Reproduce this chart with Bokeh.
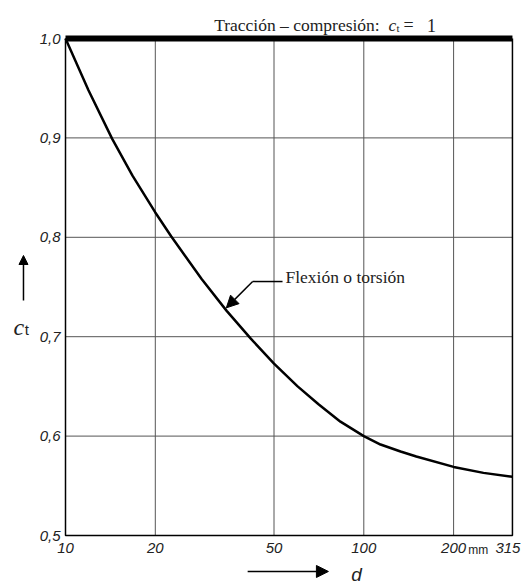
from bokeh.plotting import figure
from bokeh.models import (Range1d, FixedTicker, CustomJSTickFormatter, Label,
                          Arrow, NormalHead)
from bokeh.embed import file_html
from bokeh.resources import INLINE

# --- data ---
bend_d = [10, 11.94, 14.34, 16.77, 20, 22.6, 28.6, 34.7, 41.8, 50, 60, 70.5,
          83.5, 100, 113.8, 132.8, 150, 200, 251.9, 315]
bend_ct = [1.0, 0.948, 0.899, 0.862, 0.825, 0.801, 0.758, 0.726, 0.698, 0.673,
           0.650, 0.632, 0.6145, 0.600, 0.5915, 0.5845, 0.5795, 0.569, 0.563, 0.559]
tc_d = [10, 315]
tc_ct = [1.0, 1.0]
x_ticks = [10, 20, 50, 100, 200, 315]
y_ticks = [0.5, 0.6, 0.7, 0.8, 0.9, 1.0]

SERIF = "Liberation Serif"
SANS = "Liberation Sans"
INK = "#222222"

# layout: the frame fills the whole figure; the chart box is drawn inside it
W, H = 525, 585
BOX_L, BOX_B = 65, 535                     # pixels inside the figure
PX_DEC = 298.3                             # pixels per decade on x
PX_UNIT = 994.0                            # pixels per unit of c_t
x_lo, x_hi = x_ticks[0], x_ticks[-1]
y_lo, y_hi = y_ticks[0], y_ticks[-1]
x_start = x_lo * 10 ** (-BOX_L / PX_DEC)
x_end = x_lo * 10 ** ((W - BOX_L) / PX_DEC)
y_start = y_lo - (H - BOX_B) / PX_UNIT
y_end = y_lo + BOX_B / PX_UNIT

p = figure(x_axis_type="log", output_backend="svg", toolbar_location=None,
           width=W, height=H, min_border=0,
           x_range=Range1d(x_start, x_end), y_range=Range1d(y_start, y_end))
p.background_fill_color = "white"
p.border_fill_color = "white"
p.outline_line_color = None
p.xgrid.visible = False
p.ygrid.visible = False

for ax in (p.xaxis[0], p.yaxis[0]):
    ax.axis_line_color = None
    ax.major_tick_line_color = None
    ax.minor_tick_line_color = None
    ax.major_tick_out = 0
    ax.major_tick_in = 0
    ax.major_label_text_font = SANS
    ax.major_label_text_font_style = "italic"
    ax.major_label_text_font_size = "15px"
    ax.major_label_text_color = INK

p.xaxis.fixed_location = y_lo
p.yaxis.fixed_location = x_lo
p.xaxis.ticker = FixedTicker(ticks=x_ticks)
p.yaxis.ticker = FixedTicker(ticks=y_ticks)
p.xaxis.formatter = CustomJSTickFormatter(
    code="return index == ticks.length - 1 ? '' : String(Math.round(tick));")
p.yaxis.formatter = CustomJSTickFormatter(
    code="return tick.toFixed(1).replace('.', ',');")
p.xaxis.major_label_standoff = 7
p.yaxis.major_label_standoff = 5

# grid lines inside the chart box
inner_x = x_ticks[1:-1]
inner_y = y_ticks[1:-1]
p.segment(x0=inner_x, y0=[y_lo] * len(inner_x), x1=inner_x, y1=[y_hi] * len(inner_x),
          line_color="#555555", line_width=1)
p.segment(x0=[x_lo] * len(inner_y), y0=inner_y, x1=[x_hi] * len(inner_y), y1=inner_y,
          line_color="#555555", line_width=1)
# chart box (left, bottom, right)
p.line([x_lo, x_lo, x_hi, x_hi], [y_hi, y_lo, y_lo, y_hi],
       line_color="black", line_width=1.5)

# tension-compression line c_t = 1
p.line(tc_d, tc_ct, line_color="black", line_width=6)
# bending / torsion curve
p.line(bend_d, bend_ct, line_color="black", line_width=2.5, line_join="round")

# last x tick label, shifted inward so that it stays on the page
p.add_layout(Label(x=x_hi, y=y_lo - 7 / PX_UNIT, text=str(x_ticks[-1]),
                   x_offset=8, text_align="right", text_baseline="top",
                   text_font=SANS, text_font_style="italic",
                   text_font_size="15px", text_color=INK))
p.add_layout(Label(x=242.0, y=0.4850, text="mm", text_font=SANS,
                   text_font_size="12px", text_color=INK,
                   text_align="center", text_baseline="middle"))

# title pieces
p.add_layout(Label(x=31.5, y=1.0131, text="Tracción – compresión:",
                   text_font=SERIF, text_font_size="17.5px", text_color=INK,
                   text_baseline="alphabetic"))
p.add_layout(Label(x=121.0, y=1.0131, text="c", text_font=SERIF,
                   text_font_style="italic", text_font_size="17.5px",
                   text_color=INK, text_baseline="alphabetic"))
p.add_layout(Label(x=128.7, y=1.0108, text="t", text_font=SERIF,
                   text_font_size="11px", text_color=INK,
                   text_baseline="alphabetic"))
p.add_layout(Label(x=135.9, y=1.0131, text="=", text_font=SERIF,
                   text_font_size="18px", text_color=INK,
                   text_baseline="alphabetic"))
p.add_layout(Label(x=163.0, y=1.0131, text="1", text_font=SERIF,
                   text_font_size="18px", text_color=INK,
                   text_baseline="alphabetic"))

# curve annotation
p.add_layout(Label(x=54.6, y=0.7596, text="Flexión o torsión", text_font=SERIF,
                   text_font_size="17.5px", text_color=INK,
                   text_baseline="middle"))
p.add_layout(Arrow(x_start=53.4, y_start=0.7555, x_end=42.4, y_end=0.7555,
                   end=None, line_color="black", line_width=1.5))
p.add_layout(Arrow(x_start=42.4, y_start=0.7555, x_end=34.6, y_end=0.7290,
                   end=NormalHead(size=12, fill_color="black", line_color="black"),
                   line_color="black", line_width=1.5))

# x-axis label and arrow
p.add_layout(Arrow(x_start=40.8, y_start=0.4638, x_end=76.1, y_end=0.4638,
                   end=NormalHead(size=12, fill_color="black", line_color="black"),
                   line_color="black", line_width=1.5))
p.add_layout(Label(x=94.5, y=0.4610, text="d", text_font=SANS,
                   text_font_style="italic", text_font_size="19px",
                   text_color=INK, text_align="center",
                   text_baseline="alphabetic"))

# y-axis label and arrow
p.add_layout(Arrow(x_start=7.23, y_start=0.7364, x_end=7.23, y_end=0.7817,
                   end=NormalHead(size=9, fill_color="black", line_color="black"),
                   line_color="black", line_width=1.5))
p.add_layout(Label(x=6.69, y=0.7093, text="c", text_font=SERIF,
                   text_font_style="italic", text_font_size="24px",
                   text_color=INK, text_baseline="alphabetic"))
p.add_layout(Label(x=7.30, y=0.7072, text="t", text_font=SANS,
                   text_font_size="15px", text_color=INK,
                   text_baseline="alphabetic"))

open("out.html", "w").write(file_html(p, INLINE))
